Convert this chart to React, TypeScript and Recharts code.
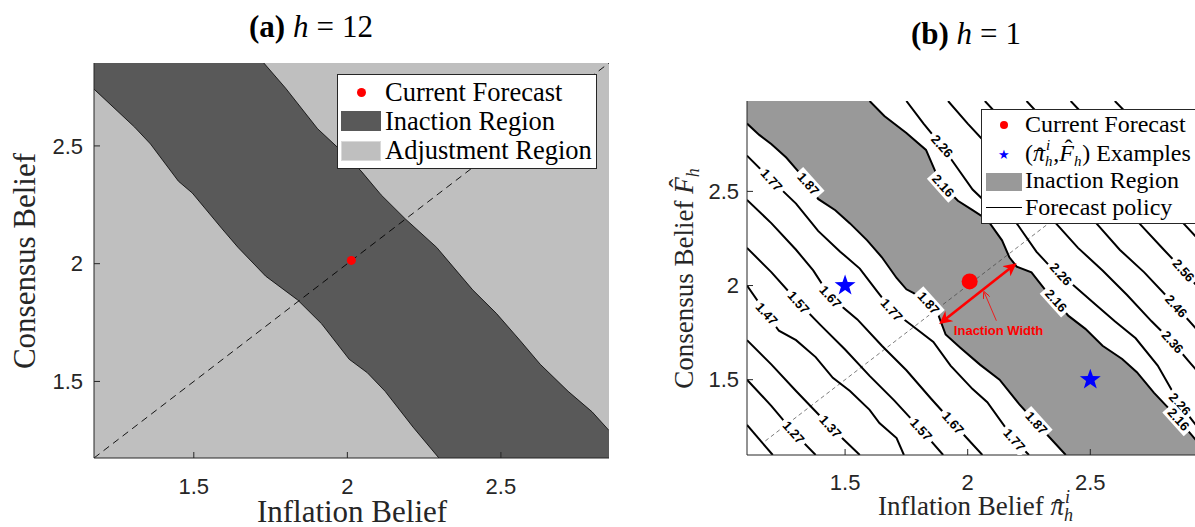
import React from 'react';
import { ComposedChart, XAxis, YAxis, Area, Line, Scatter } from 'recharts';

// ---------------- Panel (a): h = 12 ----------------
const aDomain: [number, number] = [1.175, 2.852];
const aTicks = [1.5, 2, 2.5];
const aInactionLower = [
  { x: 1.175, y: 2.741 }, { x: 1.307, y: 2.58 }, { x: 1.359, y: 2.508 }, { x: 1.45, y: 2.35 },
  { x: 1.495, y: 2.3 }, { x: 1.592, y: 2.148 }, { x: 1.644, y: 2.069 }, { x: 1.734, y: 1.947 },
  { x: 1.838, y: 1.846 }, { x: 1.916, y: 1.745 }, { x: 2.006, y: 1.594 }, { x: 2.065, y: 1.537 },
  { x: 2.123, y: 1.458 }, { x: 2.214, y: 1.306 }, { x: 2.298, y: 1.175 },
];
const aInactionUpper = [
  { x: 1.728, y: 2.852 }, { x: 1.799, y: 2.745 }, { x: 1.903, y: 2.573 }, { x: 1.968, y: 2.494 },
  { x: 2.045, y: 2.393 }, { x: 2.11, y: 2.292 }, { x: 2.188, y: 2.191 }, { x: 2.291, y: 2.069 },
  { x: 2.408, y: 1.889 }, { x: 2.486, y: 1.788 }, { x: 2.563, y: 1.673 }, { x: 2.628, y: 1.573 },
  { x: 2.719, y: 1.458 }, { x: 2.797, y: 1.371 }, { x: 2.852, y: 1.292 },
];
const aCurrentForecast = [{ x: 2.013, y: 2.014 }];
const aDiagonal = [{ x: 1.175, y: 1.175 }, { x: 2.852, y: 2.852 }];

// ---------------- Panel (b): h = 1 ----------------
const bDomain: [number, number] = [1.1, 2.98];
const bTicks = [1.5, 2, 2.5];
const bInactionLower = [ // 1.87 contour
  { x: 1.1, y: 2.86 }, { x: 1.15, y: 2.8 }, { x: 1.2, y: 2.75 }, { x: 1.26, y: 2.68 }, { x: 1.3, y: 2.62 },
  { x: 1.34, y: 2.56 }, { x: 1.39, y: 2.46 }, { x: 1.46, y: 2.4 }, { x: 1.52, y: 2.33 }, { x: 1.59, y: 2.24 },
  { x: 1.65, y: 2.15 }, { x: 1.71, y: 2.04 }, { x: 1.75, y: 1.98 }, { x: 1.78, y: 1.96 }, { x: 1.87, y: 1.88 },
  { x: 1.89, y: 1.81 }, { x: 1.91, y: 1.74 }, { x: 1.97, y: 1.67 }, { x: 2.05, y: 1.58 }, { x: 2.13, y: 1.5 },
  { x: 2.21, y: 1.37 }, { x: 2.28, y: 1.27 }, { x: 2.4, y: 1.1 },
];
const bInactionUpper = [ // 2.16 contour
  { x: 1.6, y: 2.98 }, { x: 1.66, y: 2.9 }, { x: 1.75, y: 2.81 }, { x: 1.83, y: 2.72 }, { x: 1.87, y: 2.6 },
  { x: 1.9, y: 2.53 }, { x: 1.96, y: 2.45 }, { x: 2.02, y: 2.4 }, { x: 2.08, y: 2.35 }, { x: 2.14, y: 2.24 },
  { x: 2.17, y: 2.15 }, { x: 2.2, y: 2.1 }, { x: 2.26, y: 2.07 }, { x: 2.32, y: 1.97 }, { x: 2.36, y: 1.92 },
  { x: 2.41, y: 1.84 }, { x: 2.48, y: 1.77 }, { x: 2.55, y: 1.68 }, { x: 2.63, y: 1.61 }, { x: 2.69, y: 1.54 },
  { x: 2.76, y: 1.43 }, { x: 2.84, y: 1.32 }, { x: 2.93, y: 1.18 }, { x: 2.98, y: 1.11 },
];
const c177 = [
  { x: 1.1, y: 2.69 }, { x: 1.2, y: 2.56 }, { x: 1.3, y: 2.435 }, { x: 1.39, y: 2.29 }, { x: 1.48, y: 2.18 },
  { x: 1.56, y: 2.09 }, { x: 1.63, y: 1.97 }, { x: 1.69, y: 1.87 }, { x: 1.77, y: 1.79 }, { x: 1.86, y: 1.7 },
  { x: 1.93, y: 1.575 }, { x: 2.02, y: 1.45 }, { x: 2.08, y: 1.38 }, { x: 2.19, y: 1.18 }, { x: 2.25, y: 1.1 },
];
const c167 = [
  { x: 1.1, y: 2.455 }, { x: 1.2, y: 2.33 }, { x: 1.3, y: 2.19 }, { x: 1.37, y: 2.08 }, { x: 1.44, y: 1.94 },
  { x: 1.55, y: 1.82 }, { x: 1.65, y: 1.68 }, { x: 1.75, y: 1.55 }, { x: 1.85, y: 1.4 }, { x: 1.94, y: 1.27 },
  { x: 2.06, y: 1.1 },
];
const c157 = [
  { x: 1.1, y: 2.2 }, { x: 1.2, y: 2.07 }, { x: 1.31, y: 1.91 }, { x: 1.4, y: 1.79 }, { x: 1.5, y: 1.66 },
  { x: 1.6, y: 1.52 }, { x: 1.7, y: 1.39 }, { x: 1.81, y: 1.235 }, { x: 1.9, y: 1.1 },
];
const c147 = [
  { x: 1.1, y: 2.0 }, { x: 1.18, y: 1.85 }, { x: 1.23, y: 1.76 }, { x: 1.3, y: 1.71 }, { x: 1.38, y: 1.62 },
  { x: 1.45, y: 1.51 }, { x: 1.52, y: 1.44 }, { x: 1.6, y: 1.34 }, { x: 1.64, y: 1.27 }, { x: 1.71, y: 1.19 },
  { x: 1.74, y: 1.1 },
];
const c137 = [{ x: 1.1, y: 1.71 }, { x: 1.2, y: 1.58 }, { x: 1.3, y: 1.44 }, { x: 1.44, y: 1.25 }, { x: 1.56, y: 1.1 }];
const c127 = [{ x: 1.1, y: 1.5 }, { x: 1.2, y: 1.36 }, { x: 1.29, y: 1.22 }, { x: 1.38, y: 1.1 }];
const c117 = [{ x: 1.1, y: 1.26 }, { x: 1.205, y: 1.1 }];
const c226 = [
  { x: 1.75, y: 2.98 }, { x: 1.82, y: 2.86 }, { x: 1.895, y: 2.74 }, { x: 1.96, y: 2.62 }, { x: 2.02, y: 2.51 },
  { x: 2.1, y: 2.41 }, { x: 2.2, y: 2.33 }, { x: 2.28, y: 2.18 }, { x: 2.33, y: 2.11 }, { x: 2.38, y: 2.06 },
  { x: 2.45, y: 1.98 }, { x: 2.52, y: 1.9 }, { x: 2.6, y: 1.81 }, { x: 2.685, y: 1.72 }, { x: 2.775, y: 1.575 },
  { x: 2.865, y: 1.37 }, { x: 2.93, y: 1.26 }, { x: 2.98, y: 1.19 },
];
const c236 = [
  { x: 1.92, y: 2.98 }, { x: 2.0, y: 2.86 }, { x: 2.1, y: 2.72 }, { x: 2.2, y: 2.58 }, { x: 2.3, y: 2.42 },
  { x: 2.36, y: 2.33 }, { x: 2.45, y: 2.2 }, { x: 2.55, y: 2.08 }, { x: 2.65, y: 1.95 }, { x: 2.75, y: 1.81 },
  { x: 2.835, y: 1.7 }, { x: 2.9, y: 1.6 }, { x: 2.98, y: 1.48 },
];
const c246 = [
  { x: 2.07, y: 2.98 }, { x: 2.17, y: 2.84 }, { x: 2.27, y: 2.7 }, { x: 2.37, y: 2.56 }, { x: 2.45, y: 2.43 },
  { x: 2.525, y: 2.33 }, { x: 2.62, y: 2.19 }, { x: 2.72, y: 2.07 }, { x: 2.85, y: 1.89 }, { x: 2.98, y: 1.7 },
];
const c256 = [
  { x: 2.24, y: 2.98 }, { x: 2.34, y: 2.84 }, { x: 2.44, y: 2.7 }, { x: 2.54, y: 2.56 }, { x: 2.62, y: 2.44 },
  { x: 2.7, y: 2.33 }, { x: 2.8, y: 2.19 }, { x: 2.88, y: 2.08 }, { x: 2.98, y: 1.93 },
];
const c266 = [{ x: 2.42, y: 2.98 }, { x: 2.55, y: 2.8 }, { x: 2.7, y: 2.6 }, { x: 2.8, y: 2.46 }, { x: 2.88, y: 2.33 }, { x: 2.98, y: 2.19 }];
const c276 = [{ x: 2.6, y: 2.98 }, { x: 2.75, y: 2.78 }, { x: 2.9, y: 2.58 }, { x: 2.98, y: 2.47 }];
const bContours = [c117, c127, c137, c147, c157, c167, c177, c226, c236, c246, c256, c266, c276];

const bContourLabels = [
  { x: 1.2, y: 2.56, label: '1.77' }, { x: 1.35, y: 2.54, label: '1.87' },
  { x: 1.44, y: 1.94, label: '1.67' }, { x: 1.31, y: 1.91, label: '1.57' }, { x: 1.18, y: 1.85, label: '1.47' },
  { x: 1.69, y: 1.87, label: '1.77' }, { x: 1.84, y: 1.907, label: '1.87' },
  { x: 1.29, y: 1.22, label: '1.27' }, { x: 1.44, y: 1.25, label: '1.37' }, { x: 1.81, y: 1.235, label: '1.57' },
  { x: 1.94, y: 1.27, label: '1.67' }, { x: 2.19, y: 1.18, label: '1.77' }, { x: 2.28, y: 1.27, label: '1.87' },
  { x: 1.895, y: 2.74, label: '2.26' }, { x: 1.9, y: 2.53, label: '2.16' }, { x: 2.38, y: 2.06, label: '2.26' },
  { x: 2.36, y: 1.92, label: '2.16' }, { x: 2.88, y: 2.08, label: '2.56' }, { x: 2.85, y: 1.89, label: '2.46' },
  { x: 2.835, y: 1.7, label: '2.36' }, { x: 2.865, y: 1.37, label: '2.26' }, { x: 2.86, y: 1.289, label: '2.16' },
];
const bCurrentForecast = [{ x: 2.008, y: 2.022 }];
const bExamples = [{ x: 1.5, y: 2.0 }, { x: 2.5, y: 1.5 }];
const bDiagonal = [{ x: 1.175, y: 1.175 }, { x: 2.9, y: 2.9 }];
const bWidthArrow = [{ x: 1.892, y: 1.804 }, { x: 2.191, y: 2.11 }];
const bPointer = [{ x: 2.117, y: 1.813 }, { x: 2.068, y: 1.962 }];
const bAnnotation = [{ x: 2.126, y: 1.76, label: 'Inaction Width' }];

// ---------------- styling ----------------
const SERIF = '"Liberation Serif", "Times New Roman", serif';
const SANS = '"Liberation Sans", Arial, Helvetica, sans-serif';
const AXIS = '#262626';
const LABEL_ANGLE = 48;

const tickStyle = { fill: AXIS, fontSize: 22, fontFamily: SANS };
const noLabel = () => '';

const ContourLabel = (props: any) => {
  const { cx, cy, payload } = props;
  if (cx == null || cy == null) return null;
  return (
    <g transform={`translate(${cx},${cy}) rotate(${LABEL_ANGLE})`}>
      <rect x={-16} y={-7.5} width={32} height={15} fill="#ffffff" />
      <text x={0} y={0} textAnchor="middle" dominantBaseline="central" fontFamily={SANS}
        fontWeight="bold" fontSize={13} fill="#000">{payload.label}</text>
    </g>
  );
};

const StarShape = (props: any) => {
  const { cx, cy } = props;
  if (cx == null) return null;
  const pts: string[] = [];
  for (let i = 0; i < 10; i++) {
    const r = i % 2 === 0 ? 11 : 4.4;
    const a = -Math.PI / 2 + (i * Math.PI) / 5;
    pts.push(`${cx + r * Math.cos(a)},${cy + r * Math.sin(a)}`);
  }
  return <polygon points={pts.join(' ')} fill="#0000ff" />;
};

const Dot = (r: number) => (props: any) => {
  const { cx, cy } = props;
  if (cx == null) return null;
  return <circle cx={cx} cy={cy} r={r} fill="#ff0000" />;
};

const AnnotationText = (props: any) => {
  const { cx, cy, payload } = props;
  if (cx == null) return null;
  return (
    <text x={cx} y={cy} textAnchor="middle" dominantBaseline="central" fontFamily={SANS}
      fontWeight="bold" fontSize={13} fill="#ff0000">{payload.label}</text>
  );
};

function PanelA() {
  const areaLower = [...aInactionLower, { x: aDomain[1], y: aDomain[0] }];
  return (
    <ComposedChart width={620} height={527} margin={{ top: 63, right: 11, bottom: 0, left: 0 }}>
      <XAxis xAxisId={0} type="number" dataKey="x" domain={aDomain} ticks={aTicks} allowDataOverflow
        height={69} tickSize={-6} tickMargin={26} tick={tickStyle} stroke={AXIS} />
      <XAxis xAxisId="top" orientation="top" type="number" dataKey="x" domain={aDomain} ticks={aTicks}
        allowDataOverflow height={0} tickSize={-6} tickFormatter={noLabel} stroke={AXIS} />
      <YAxis yAxisId={0} type="number" dataKey="y" domain={aDomain} ticks={aTicks} allowDataOverflow
        width={94} tickSize={-6} tickMargin={17} tick={tickStyle} stroke={AXIS} />
      <YAxis yAxisId="right" orientation="right" type="number" dataKey="y" domain={aDomain} ticks={aTicks}
        allowDataOverflow width={0} tickSize={-6} tickFormatter={noLabel} stroke={AXIS} />
      <Area data={[{ x: aDomain[0], y: aDomain[0] }, { x: aDomain[1], y: aDomain[0] }]} dataKey="y"
        type="linear" baseValue={aDomain[1]} fill="#bfbfbf" fillOpacity={1} stroke="none" isAnimationActive={false} />
      <Area data={areaLower} dataKey="y" type="linear" baseValue={aDomain[1]} fill="#595959" fillOpacity={1}
        stroke="none" isAnimationActive={false} />
      <Area data={aInactionUpper} dataKey="y" type="linear" baseValue={aDomain[1]} fill="#bfbfbf" fillOpacity={1}
        stroke="none" isAnimationActive={false} />
      <Line data={aInactionLower} dataKey="y" type="linear" stroke="#000" strokeWidth={0.8} dot={false} isAnimationActive={false} />
      <Line data={aInactionUpper} dataKey="y" type="linear" stroke="#000" strokeWidth={0.8} dot={false} isAnimationActive={false} />
      <Line data={aDiagonal} dataKey="y" type="linear" stroke="#000" strokeWidth={0.9} strokeDasharray="7 5" dot={false} isAnimationActive={false} />
      <Scatter data={aCurrentForecast} dataKey="y" shape={Dot(4.5)} isAnimationActive={false} />
    </ComposedChart>
  );
}

function PanelB() {
  const areaLower = [...bInactionLower, { x: bDomain[1], y: bDomain[0] }];
  return (
    <ComposedChart width={600} height={527} margin={{ top: 101, right: 12, bottom: 0, left: 0 }}>
      <defs>
        <marker id="arrowRed" viewBox="0 0 10 10" refX="8" refY="5" markerWidth="5" markerHeight="5"
          orient="auto-start-reverse" markerUnits="strokeWidth">
          <path d="M0,0 L10,5 L0,10 L3,5 z" fill="#ff0000" />
        </marker>
        <marker id="arrowThin" viewBox="0 0 10 10" refX="8" refY="5" markerWidth="9" markerHeight="9"
          orient="auto" markerUnits="strokeWidth">
          <path d="M0,0 L10,5 L0,10" fill="none" stroke="#ff0000" strokeWidth="1.2" />
        </marker>
      </defs>
      <XAxis xAxisId={0} type="number" dataKey="x" domain={bDomain} ticks={bTicks} allowDataOverflow
        height={72} tickSize={-6} tickMargin={25} tick={tickStyle} stroke={AXIS} />
      <XAxis xAxisId="top" orientation="top" type="number" dataKey="x" domain={bDomain} ticks={bTicks}
        allowDataOverflow height={0} tickSize={-6} tickFormatter={noLabel} stroke={AXIS} />
      <YAxis yAxisId={0} type="number" dataKey="y" domain={bDomain} ticks={bTicks} allowDataOverflow
        width={127} tickSize={-6} tickMargin={14} tick={tickStyle} stroke={AXIS} />
      <YAxis yAxisId="right" orientation="right" type="number" dataKey="y" domain={bDomain} ticks={bTicks}
        allowDataOverflow width={0} tickSize={-6} tickFormatter={noLabel} stroke={AXIS} />
      <Area data={areaLower} dataKey="y" type="linear" baseValue={bDomain[1]} fill="#999999" fillOpacity={1}
        stroke="none" isAnimationActive={false} />
      <Area data={bInactionUpper} dataKey="y" type="linear" baseValue={bDomain[1]} fill="#ffffff" fillOpacity={1}
        stroke="none" isAnimationActive={false} />
      <Line data={bDiagonal} dataKey="y" type="linear" stroke="#444" strokeWidth={0.7} strokeDasharray="4 3" dot={false} isAnimationActive={false} />
      <Line data={bInactionLower} dataKey="y" type="linear" stroke="#000" strokeWidth={2} dot={false} isAnimationActive={false} />
      <Line data={bInactionUpper} dataKey="y" type="linear" stroke="#000" strokeWidth={2} dot={false} isAnimationActive={false} />
      {bContours.map((c, i) => (
        <Line key={i} data={c} dataKey="y" type="linear" stroke="#000" strokeWidth={2} dot={false} isAnimationActive={false} />
      ))}
      <Scatter data={bContourLabels} dataKey="y" shape={ContourLabel} isAnimationActive={false} />
      <Line data={bWidthArrow} dataKey="y" type="linear" stroke="#ff0000" strokeWidth={2.6} dot={false}
        markerStart="url(#arrowRed)" markerEnd="url(#arrowRed)" isAnimationActive={false} />
      <Line data={bPointer} dataKey="y" type="linear" stroke="#ff0000" strokeWidth={0.8} dot={false}
        markerEnd="url(#arrowThin)" isAnimationActive={false} />
      <Scatter data={bAnnotation} dataKey="y" shape={AnnotationText} isAnimationActive={false} />
      <Scatter data={bCurrentForecast} dataKey="y" shape={Dot(8)} isAnimationActive={false} />
      <Scatter data={bExamples} dataKey="y" shape={StarShape} isAnimationActive={false} />
    </ComposedChart>
  );
}

// LaTeX-like helpers
const Hat = ({ ch, left, top }: { ch: string; left: string; top: string }) => (
  <span style={{ position: 'relative', display: 'inline-block', fontStyle: 'italic', lineHeight: 1 }}>
    {ch}
    <span style={{ position: 'absolute', left, top, fontStyle: 'normal', lineHeight: 1 }}>ˆ</span>
  </span>
);

const SupSub = ({ sup, sub, p, s }: { sup: string; sub?: string; p: number; s: number }) => (
  <span style={{ position: 'relative', display: 'inline-block', width: s * 0.55, height: 0 }}>
    {sup ? (
      <span style={{ position: 'absolute', left: 1, top: -0.4 * p - 0.89 * s, fontSize: s, lineHeight: 1, fontStyle: 'italic' }}>{sup}</span>
    ) : null}
    {sub ? (
      <span style={{ position: 'absolute', left: 0, top: 0.27 * p - 0.89 * s, fontSize: s, lineHeight: 1, fontStyle: 'italic' }}>{sub}</span>
    ) : null}
  </span>
);

const abs = (s: React.CSSProperties): React.CSSProperties => ({ position: 'absolute', ...s });

export default function App() {
  return (
    <div style={abs({ left: 0, top: 0, width: 1195, height: 527, overflow: 'hidden', background: '#fff' })}>
      <div style={abs({ left: 0, top: 0 })}><PanelA /></div>
      <div style={abs({ left: 620, top: 0 })}><PanelB /></div>

      {/* titles */}
      <div style={abs({ left: 161, top: 9, width: 300, textAlign: 'center', fontFamily: SERIF, fontSize: 31, color: '#000', whiteSpace: 'nowrap' })}>
        <b>(a)</b> <i>h</i><span style={{ margin: '0 8px' }}>=</span>12
      </div>
      <div style={abs({ left: 816, top: 16, width: 300, textAlign: 'center', fontFamily: SERIF, fontSize: 31, color: '#000', whiteSpace: 'nowrap' })}>
        <b>(b)</b> <i>h</i><span style={{ margin: '0 8px' }}>=</span>1
      </div>

      {/* axis labels panel a */}
      <div style={abs({ left: 202, top: 496, width: 300, textAlign: 'center', fontFamily: SERIF, fontSize: 31, color: '#262626', whiteSpace: 'nowrap', lineHeight: '32px' })}>
        Inflation Belief
      </div>
      <div style={abs({ left: 25 - 150, top: 261 - 16, width: 300, height: 32, lineHeight: '32px', textAlign: 'center', transform: 'rotate(-90deg)', fontFamily: SERIF, fontSize: 31, color: '#262626', whiteSpace: 'nowrap' })}>
        Consensus Belief
      </div>

      {/* axis labels panel b */}
      <div style={abs({ left: 826, top: 492, width: 300, textAlign: 'center', fontFamily: SERIF, fontSize: 27, color: '#262626', whiteSpace: 'nowrap', lineHeight: '28px' })}>
        Inflation Belief <Hat ch="π" left="0.12em" top="0.12em" /><SupSub sup="i" sub="h" p={27} s={18} />
      </div>
      <div style={abs({ left: 684 - 150, top: 278 - 16, width: 300, height: 32, lineHeight: '32px', textAlign: 'center', transform: 'rotate(-90deg)', fontFamily: SERIF, fontSize: 27, color: '#262626', whiteSpace: 'nowrap' })}>
        Consensus Belief <Hat ch="F" left="0.22em" top="-0.2em" /><SupSub sup="" sub="h" p={27} s={18} />
      </div>

      {/* legend panel a */}
      <div style={abs({ left: 337, top: 74, width: 258, height: 93, background: '#fff', border: '1px solid #262626', fontFamily: SERIF, fontSize: 26.5, color: '#000' })}>
        <div style={abs({ left: 19, top: 13, width: 9, height: 9, borderRadius: '50%', background: '#ff0000' })} />
        <div style={abs({ left: 3, top: 36, width: 40, height: 20, background: '#595959' })} />
        <div style={abs({ left: 3, top: 66, width: 40, height: 20, background: '#bfbfbf', boxShadow: 'inset 0 0 0 1px #d9d9d9' })} />
        <div style={abs({ left: 47, top: 3, lineHeight: '29px', whiteSpace: 'nowrap' })}>Current Forecast</div>
        <div style={abs({ left: 47, top: 32, lineHeight: '29px', whiteSpace: 'nowrap' })}>Inaction Region</div>
        <div style={abs({ left: 47, top: 61, lineHeight: '29px', whiteSpace: 'nowrap' })}>Adjustment Region</div>
      </div>

      {/* legend panel b */}
      <div style={abs({ left: 981, top: 109, width: 240, height: 113, background: '#fff', border: '1px solid #262626', fontFamily: SERIF, fontSize: 24, color: '#000' })}>
        <div style={abs({ left: 18, top: 11, width: 8, height: 8, borderRadius: '50%', background: '#ff0000' })} />
        <div style={abs({ left: 16, top: 38, fontSize: 13, color: '#0000ff', lineHeight: '14px' })}>★</div>
        <div style={abs({ left: 4, top: 63, width: 36, height: 18, background: '#999999' })} />
        <div style={abs({ left: 4, top: 97, width: 36, height: 1.2, background: '#000' })} />
        <div style={abs({ left: 43, top: 1, lineHeight: '26px', whiteSpace: 'nowrap' })}>Current Forecast</div>
        <div style={abs({ left: 43, top: 30, lineHeight: '26px', whiteSpace: 'nowrap' })}>
          (<Hat ch="π" left="0.12em" top="0.12em" /><SupSub sup="i" sub="h" p={24} s={15} />,<Hat ch="F" left="0.22em" top="-0.2em" /><SupSub sup="" sub="h" p={24} s={15} />) Examples
        </div>
        <div style={abs({ left: 43, top: 57, lineHeight: '26px', whiteSpace: 'nowrap' })}>Inaction Region</div>
        <div style={abs({ left: 43, top: 84, lineHeight: '26px', whiteSpace: 'nowrap' })}>Forecast policy</div>
      </div>
    </div>
  );
}
